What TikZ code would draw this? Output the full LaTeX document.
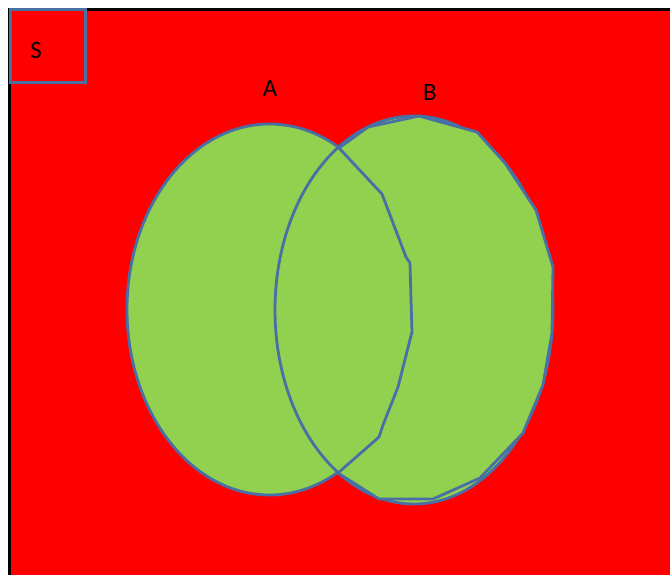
\documentclass[tikz,border=0pt]{standalone}
\usepackage{fontspec}
\setmainfont{Carlito}
\usetikzlibrary{shapes.geometric}
\definecolor{bgred}{RGB}{255,0,0}
\definecolor{setgreen}{RGB}{146,208,80}
\definecolor{outblue}{RGB}{72,112,164}
\tikzset{
  setshape/.style={ellipse, draw=outblue, fill=setgreen, line width=2.8pt, inner sep=0pt},
  setlabel/.style={font=\fontsize{25}{25}\selectfont, text=black, inner sep=0pt},
  sbox/.style={draw=outblue, line width=2.8pt, minimum width=75pt, minimum height=73pt, inner sep=0pt}
}
\begin{document}
\begin{tikzpicture}[x=1pt,y=-1pt]
\useasboundingbox (0,0) rectangle (670,574);
\fill[white] (0,0) rectangle (670,574);
\fill[bgred] (9,9) rectangle (672,576);
\draw[black, line width=3pt] (9,576) -- (9,9) -- (672,9);
% S box
\node[sbox] (S) at (48,46) {};
\node[setlabel] (Slab) at (36,50) {S};
% sets
\node[setshape, minimum width=285pt, minimum height=371pt] (A) at (269.5,309.5) {};
\node[setshape, minimum width=278pt, minimum height=388pt] (B) at (414,310) {};
% polygon overlay
\filldraw[fill=setgreen, draw=outblue, line width=2.8pt, line join=round]
  (339,148) -- (368,127) -- (419,116) -- (477,132) -- (505,163) -- (536,210)
  -- (553,267) -- (552,333) -- (543,385) -- (523,433) -- (480,478)
  -- (433,499) -- (379,499) -- (338,473) -- (379,437) -- (383,425)
  -- (398,387) -- (412,332) -- (411,300) -- (410,263) -- (406,257)
  -- (382,194) -- cycle;
% labels
\node[setlabel] (Alab) at (270,88) {A};
\node[setlabel] (Blab) at (430,92) {B};
\end{tikzpicture}
\end{document}
